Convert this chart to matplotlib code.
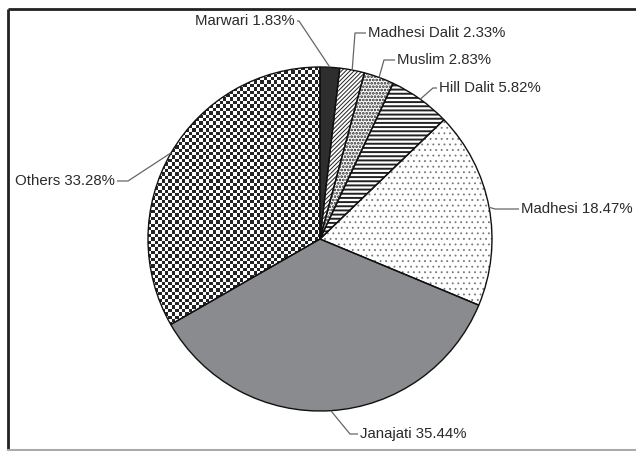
import numpy as np
import matplotlib
matplotlib.use("Agg")
import matplotlib.pyplot as plt

# ---- data ----
categories = ["Marwari", "Madhesi Dalit", "Muslim", "Hill Dalit", "Madhesi", "Janajati", "Others"]
shares = [1.83, 2.33, 2.83, 5.82, 18.47, 35.44, 33.28]

# ---- styles (per category) ----
faces = ["#2e2e2e", "white", "white", "white", "white", "#8a8b8e", "white"]
hatches = [None, "////////", ".....", "----", "...", None, None]
hatch_cols = ["#2e2e2e", "#222222", "#222222", "#222222", "#777777", "#8a8b8e", "#222222"]
hatch_lws = [1.0, 0.7, 1.3, 1.4, 0.6, 1.0, 1.0]

# label layout in image pixel coords (y down): text anchor, elbow, alignment
label_pos = [(295, 21), (368, 33), (397, 60), (439, 88), (521, 209), (360, 434), (115, 181)]
elbows = [(299, 21), (355, 33), (384, 60), (433, 88), (495, 209), (350, 434), (128, 181)]
aligns = ["right", "left", "left", "left", "left", "left", "right"]

W, H = 636, 451
CX, CY, R = 320, H - 239, 172

plt.rcParams['font.family'] = ['Liberation Sans', 'DejaVu Sans']
fig = plt.figure(figsize=(W / 100, H / 100), dpi=100)
ax = fig.add_axes([0, 0, 1, 1])

wedges, _ = ax.pie(shares, startangle=90, counterclock=False, center=(CX, CY), radius=R,
                   colors=faces, wedgeprops=dict(linewidth=0))
for w, h, hc, hl in zip(wedges, hatches, hatch_cols, hatch_lws):
    w.set_edgecolor(hc)
    w.set_linewidth(0)
    if h:
        w.set_hatch(h)
        if hasattr(w, "set_hatch_linewidth"):
            w.set_hatch_linewidth(hl)

# checkerboard texture for "Others"
cell = 3.4
n = int(2 * R / cell) + 2
ii, jj = np.indices((n, n))
checker = ((ii + jj) % 2).astype(float)
im = ax.imshow(checker, cmap=matplotlib.colors.ListedColormap(["white", "#242424"]),
               extent=(CX - R, CX - R + n * cell, CY - R, CY - R + n * cell),
               interpolation="nearest", zorder=1.5, origin="lower")
im.set_clip_path(wedges[6])

# outlines
outl, _ = ax.pie(shares, startangle=90, counterclock=False, center=(CX, CY), radius=R,
                 colors=["none"] * len(shares),
                 wedgeprops=dict(edgecolor="#111111", linewidth=1.0))
for w in outl:
    w.set_zorder(3)

# labels with leader lines
for w, cat, val, (tx, ty), (ex, ey), ha in zip(wedges, categories, shares, label_pos, elbows, aligns):
    ang = np.deg2rad((w.theta1 + w.theta2) / 2)
    axp = CX + R * np.cos(ang)
    ayp = CY + R * np.sin(ang)
    tyy = H - ty
    eyy = H - ey
    ax.plot([axp, ex, tx + (-2 if ha == "left" else 2)], [ayp, eyy, tyy],
            color="#666666", lw=0.9, zorder=4, solid_capstyle="butt")
    ax.text(tx, tyy, f"{cat} {val:.2f}%", ha=ha, va="center", fontsize=10.8,
            color="#2b2b2b", zorder=5)

# frame
ax.plot([8, W], [H - 9, H - 9], color="#222222", lw=2.0, zorder=6, solid_capstyle="butt")
ax.plot([8, 8], [H - 9, 0], color="#222222", lw=2.0, zorder=6, solid_capstyle="butt")
ax.plot([8, W], [H - 450, H - 450], color="#aaaaaa", lw=1.5, zorder=6)

ax.set_xlim(0, W)
ax.set_ylim(0, H)
ax.set_aspect("auto")
ax.axis("off")
fig.savefig("out.png", dpi=100, facecolor="white")
